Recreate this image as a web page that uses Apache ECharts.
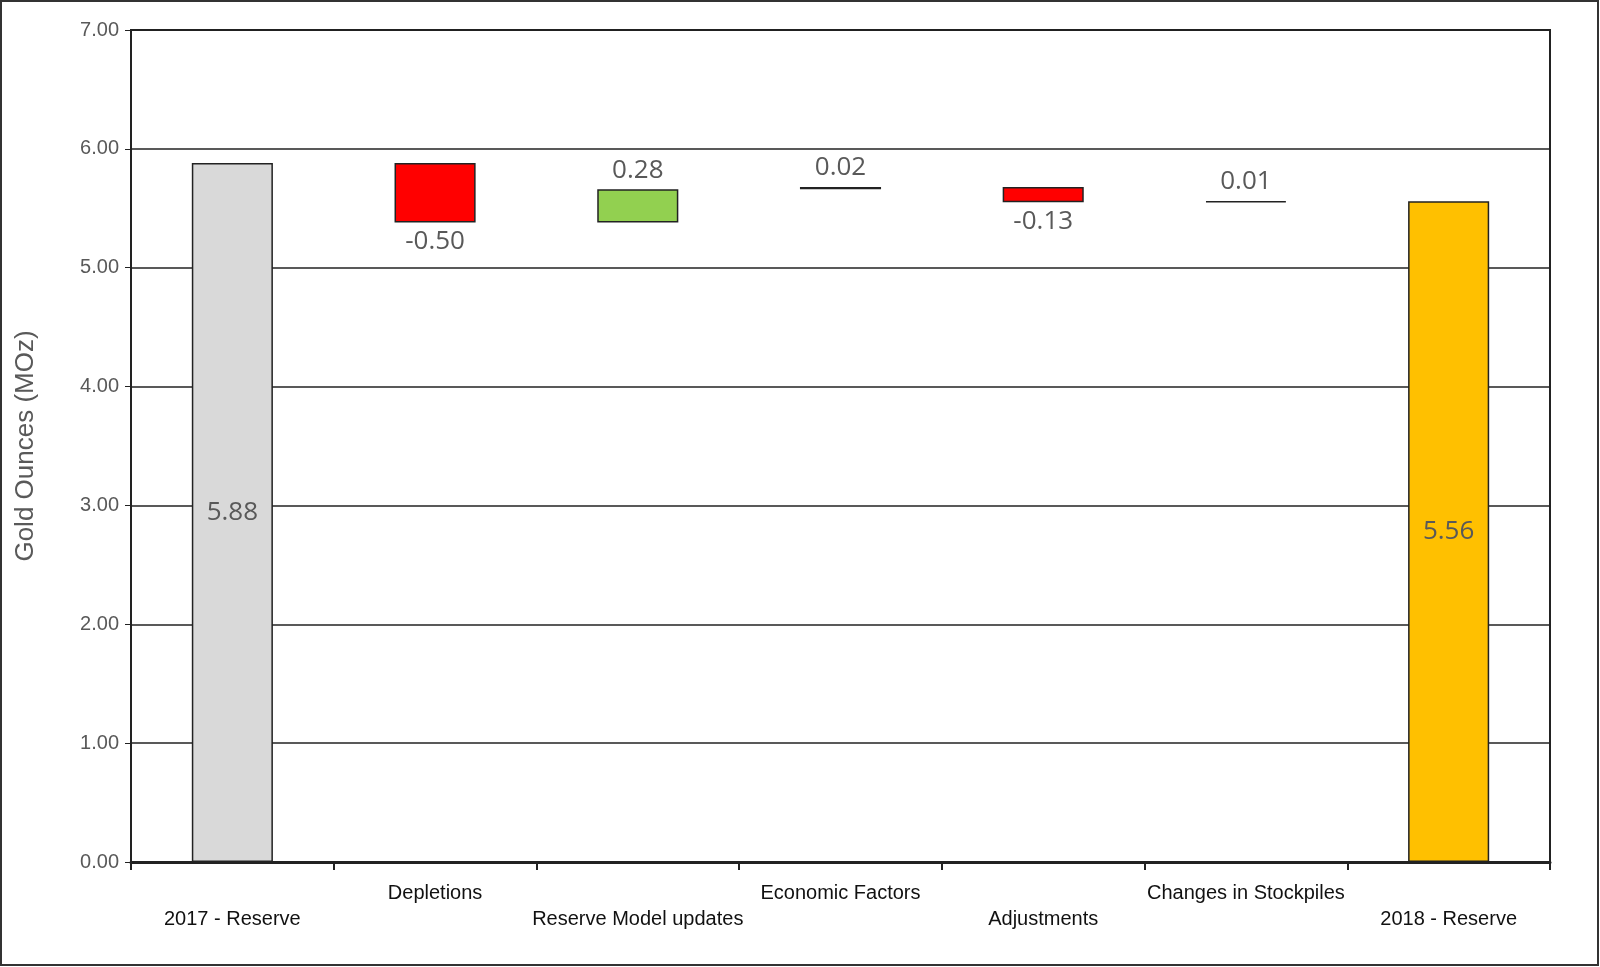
<!DOCTYPE html>
<html><head><meta charset="utf-8">
<script src="https://cdn.jsdelivr.net/npm/echarts@6/dist/echarts.min.js"></script>
<style>html,body{margin:0;padding:0;background:#fff}#c{width:1600px;height:967px}</style>
</head><body><div id="c"></div>
<script>
const categories = ["2017 - Reserve","Depletions","Reserve Model updates","Economic Factors","Adjustments","Changes in Stockpiles","2018 - Reserve"];
const deltas = [5.88, -0.50, 0.28, 0.02, -0.13, 0.01, 5.56];
const isTotal = [true,false,false,false,false,false,true];
const yTicks = [0,1,2,3,4,5,6,7];

const base=[], vis=[];
let run=0;
deltas.forEach((d,i)=>{
  if(isTotal[i]){ base.push(0); vis.push({v:d,color:i===0?'#d9d9d9':'#ffc000',pos:'inside'}); run=d; }
  else { const lo=Math.min(run,run+d); base.push(+lo.toFixed(2)); run+=d;
    vis.push({v:Math.abs(d),sign:d,color:d<0?'#ff0000':'#92d050',pos:d<0?'bottom':'top'}); }
});
const chart=echarts.init(document.getElementById('c'));
chart.setOption({
  animation:false,
  graphic:[{type:'rect',shape:{x:1,y:1,width:1597,height:964},style:{fill:'none',stroke:'#333',lineWidth:2}}],
  grid:{left:131,right:50,top:30,bottom:105,show:true,borderColor:'#222',borderWidth:2},
  xAxis:{type:'category',data:categories,
    axisLine:{lineStyle:{color:'#222',width:3}},
    axisTick:{show:true,alignWithLabel:false,length:8,lineStyle:{color:'#222',width:2}},
    axisLabel:{interval:0,color:'#111',fontFamily:'Liberation Sans',fontSize:20,margin:18,lineHeight:26,
      formatter:(v,i)=>i%2===0?'\n'+v:v}},
  yAxis:{type:'value',min:0,max:7,interval:1,name:'Gold Ounces (MOz)',nameLocation:'middle',nameGap:92,
    nameTextStyle:{color:'#595959',fontFamily:'Liberation Sans',fontSize:26},
    axisLine:{show:true,lineStyle:{color:'#222',width:2}},axisTick:{show:true,length:6,lineStyle:{color:'#222'}},
    axisLabel:{color:'#595959',fontFamily:'Liberation Sans',fontSize:20,formatter:v=>v.toFixed(2),margin:12},
    splitLine:{lineStyle:{color:'#222',width:1.5}}},
  series:[
    {type:'bar',stack:'w',data:base,itemStyle:{color:'transparent'},barWidth:'40%',silent:true},
    {type:'bar',stack:'w',barWidth:'40%',
     data:vis.map(o=>({value:o.v,itemStyle:{color:o.color,borderColor:'#222',borderWidth:1.5},
       label:{show:true,position:o.pos,distance:6,formatter:()=>(o.sign!==undefined?o.sign:o.v).toFixed(2),
         color:'#595959',fontFamily:'Open Sans',fontSize:26}}))}
  ]
});
</script></body></html>
